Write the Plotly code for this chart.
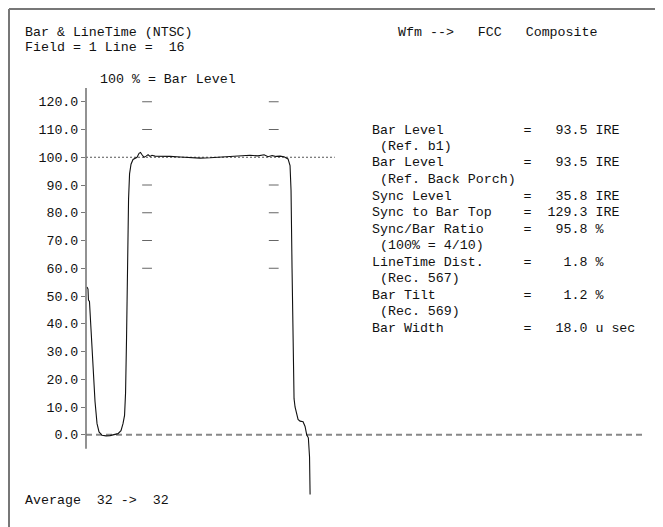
import plotly.graph_objects as go

# ---------------- data ----------------
time_us = [0.11, 0.22, 0.27, 0.38, 0.55, 0.77, 0.99, 1.21, 1.43, 1.76, 2.20, 2.63, 3.07, 3.51,
           3.84, 4.06, 4.23, 4.34, 4.45, 4.56, 4.67, 4.78, 4.94, 5.16, 5.38, 5.60, 5.82, 5.98,
           6.15, 6.37, 6.59, 6.81, 7.03, 7.24, 7.57, 8.12, 9.22, 10.32, 11.42, 12.51, 13.61,
           14.71, 15.81, 16.90, 18.00, 18.88, 19.54, 19.98, 20.42, 20.86, 21.30, 21.73, 22.17,
           22.39, 22.50, 22.61, 22.72, 22.83, 22.94, 23.05, 23.27, 23.49, 23.82, 24.04, 24.22,
           24.40, 24.53, 24.59]
level_pct = [53.2, 52.5, 48.5, 48.0, 38, 25, 12, 4, 1, -0.2, -0.4, -0.3, 0.0, 0.4,
             1.5, 4, 7, 15, 35, 62, 85, 94, 97.5, 99.2, 99.5, 100.0, 101.4, 101.7,
             100.9, 100.0, 100.4, 100.9, 100.3, 100.7, 100.4, 100.4, 100.3, 100.1, 99.9, 99.7, 99.8,
             100.0, 100.3, 100.6, 100.7, 100.5, 100.9, 100.2, 100.6, 100.3, 100.4, 100.2, 99.4,
             97, 88, 60, 30, 13, 10, 8.2, 5.5, 4.9, 4.7, 3.0, 0.0,
             -1.1, -8, -21.5]

limit_times = [6.7, 20.6]
limit_levels = [120, 110, 90, 80, 70, 60]

y_ticks = [0, 10, 20, 30, 40, 50, 60, 70, 80, 90, 100, 110, 120]
y_tick_labels = ["0.0", "10.0", "20.0", "30.0", "40.0", "50.0", "60.0", "70.0", "80.0",
                 "90.0", "100.0", "110.0", "120.0"]

ref_level = 100
zero_level = 0
ref_line_end = 27.3
zero_line_end = 61.1
axis_span = [-5, 125]

meas_labels = ["Bar Level", "Bar Level", "Sync Level", "Sync to Bar Top", "Sync/Bar Ratio",
               "LineTime Dist.", "Bar Tilt", "Bar Width"]
meas_notes = ["(Ref. b1)", "(Ref. Back Porch)", "", "", "(100% = 4/10)", "(Rec. 567)",
              "(Rec. 569)", ""]
meas_values = [93.5, 93.5, 35.8, 129.3, 95.8, 1.8, 1.2, 18.0]
meas_units = ["IRE", "IRE", "IRE", "IRE", "%", "%", "%", "u sec"]

title_left = "Bar & LineTime (NTSC)"
field_line = "Field = 1 Line =  16"
title_right = "Wfm -->   FCC   Composite"
scale_note = "100 % = Bar Level"
average_note = "Average  32 ->  32"

# ---------------- layout helpers ----------------
OFF = 8  # page body margin
W, H = 655, 519
ML, MR, MT, MB = 78, 12, 66, 9
PW, PH = W - ML - MR, H - MT - MB
FONT = "Liberation Mono"
FS = 13.3
TXT = "#111111"


def px(x):  # page x -> paper
    return (x - OFF - ML) / PW


def py(y):  # page y -> paper
    return (H - MB - (y - OFF)) / PH


def nb(s):
    return s.replace(" ", "\u00a0")


fig = go.Figure()

fig.add_trace(go.Scatter(x=time_us, y=level_pct, mode="lines",
                         line=dict(color="#111111", width=1.1), hoverinfo="skip"))

lx, ly = [], []
for t in limit_times:
    for lv in limit_levels:
        lx.append(t)
        ly.append(lv)
fig.add_trace(go.Scatter(x=lx, y=ly, mode="markers",
                         marker=dict(symbol="line-ew", size=7,
                                     line=dict(color="#666666", width=1)),
                         hoverinfo="skip"))

shapes = [
    dict(type="line", xref="paper", yref="y", x0=0, x1=0, y0=axis_span[0], y1=axis_span[1],
         line=dict(color="#777777", width=1.6)),
    dict(type="line", xref="x", yref="y", x0=0, x1=ref_line_end, y0=ref_level, y1=ref_level,
         line=dict(color="#555555", width=1, dash="2px,2px"), layer="below"),
    dict(type="line", xref="x", yref="y", x0=0, x1=zero_line_end, y0=zero_level, y1=zero_level,
         line=dict(color="#888888", width=1.8, dash="6px,4px"), layer="below"),
    dict(type="line", xref="paper", yref="paper", x0=px(9), x1=px(663), y0=py(9), y1=py(9),
         line=dict(color="#777777", width=2)),
    dict(type="line", xref="paper", yref="paper", x0=px(9), x1=px(9), y0=py(9), y1=py(527),
         line=dict(color="#777777", width=2)),
]

ann = []


def text(s, x, y):
    ann.append(dict(text=nb(s), x=px(x - 2), y=py(y), xref="paper", yref="paper",
                    xanchor="left", yanchor="middle", showarrow=False,
                    font=dict(family=FONT, size=FS, color=TXT)))


text(title_left, 25, 32)
text(field_line, 25, 47)
text(title_right, 398, 32)
text(scale_note, 100, 80)
text(average_note, 25, 500)

row = 0
y0 = 130
dy = 16.5
for lab, note, val, unit in zip(meas_labels, meas_notes, meas_values, meas_units):
    line = f"{lab:<19}={val:>7.1f} {unit}"
    text(line, 372, y0 + row * dy)
    row += 1
    if note:
        text(" " + note, 372, y0 + row * dy)
        row += 1

fig.update_layout(
    width=W, height=H,
    margin=dict(l=ML, r=MR, t=MT, b=MB, pad=0),
    paper_bgcolor="white", plot_bgcolor="white",
    showlegend=False,
    shapes=shapes,
    annotations=ann,
    xaxis=dict(range=[0, 62], visible=False, fixedrange=True),
    yaxis=dict(range=[-30, 130], tickvals=y_ticks, ticktext=y_tick_labels,
               ticks="outside", ticklen=4, tickwidth=1, tickcolor="#777777",
               showgrid=False, zeroline=False, showline=False,
               tickfont=dict(family=FONT, size=FS, color=TXT), fixedrange=True),
)

fig.write_html("out.html")
